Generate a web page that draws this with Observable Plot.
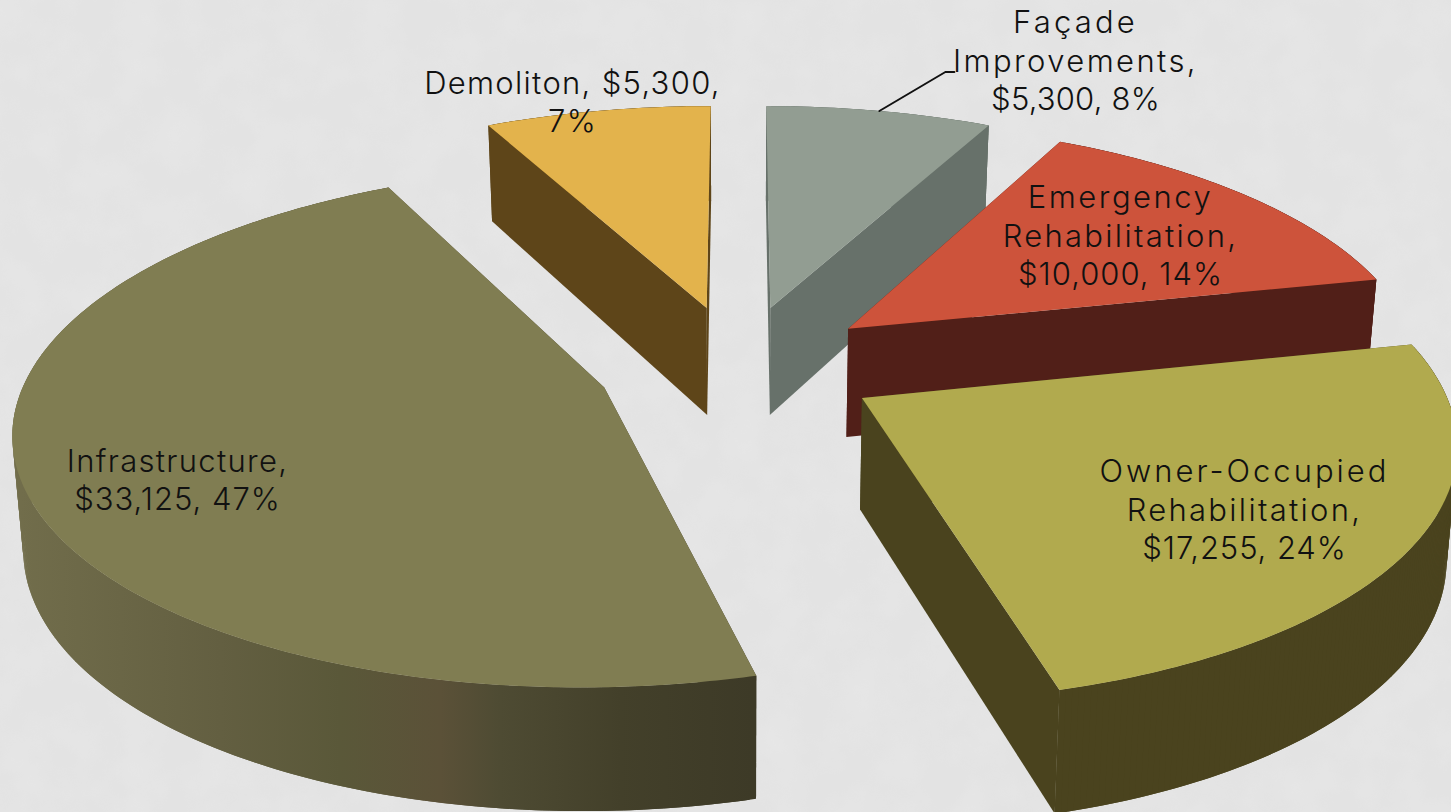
<!DOCTYPE html>
<html>
<head>
<meta charset="utf-8">
<style>
html,body{margin:0;padding:0;background:#e3e3e3;overflow:hidden}
svg{display:block}
</style>
<script src="https://cdn.jsdelivr.net/npm/d3@7"></script>
<script src="https://cdn.jsdelivr.net/npm/@observablehq/plot@0.6"></script>
</head>
<body>
<div id="chart"></div>
<script>
// Data, clockwise from twelve o'clock
const categories = ["Façade\nImprovements,", "Emergency\nRehabilitation,", "Owner-Occupied\nRehabilitation,", "Infrastructure,", "Demoliton,"];
const amounts = [5300, 10000, 17255, 33125, 5300];
const percents = [8, 14, 24, 47, 7];

// Styles
const topColors = ["#929d92", "#cd533b", "#b1aa4e", "#807d52", "#e3b34c"];
const wallColors = ["#67716a", "#511f18", "#4a431e", "url(#infraWall)", "#5e4519"];
const drawOrder = [0, 4, 1, 3, 2];

// Perspective layout of the exploded disc
const view = {cx: 738, horizon: -1295, plane: 1660, persp: 0.1493, spread: 574, explode: 0.247,
              depth: 110, depthSlope: 12.5, shrink: 0.985};
const labelPlaces = [[1075, 59], [1120, 234], [1244, 508], [177, 478], [572, 100]];
const lineSpacing = {"Façade": 3.2, "Improvements,": 2.4, "Emergency": 2.5, "Rehabilitation,": 2.3, "Owner-Occupied": 3,
                     "$5,300, 8%": 0.2, "$10,000, 14%": 1, "$17,255, 24%": 0.9, "$33,125, 47%": 1};

const total = d3.sum(amounts);
const ends = d3.cumsum(amounts).map(v => v / total * 2 * Math.PI);
const starts = ends.map((_, i) => (i ? ends[i - 1] : 0));

function project(u, v, low) {
  const w = 1 + view.persp * v;
  const x = view.cx + view.spread * u / w;
  const y = view.horizon + view.plane / w;
  if (!low) return {x, y};
  return {x: view.cx + (x - view.cx) * view.shrink, y: y + view.depth - view.depthSlope * v};
}
function slicePoint(i, theta, r, low) {
  const mid = (starts[i] + ends[i]) / 2;
  const u = view.explode * Math.sin(mid) + r * Math.sin(theta);
  const v = view.explode * Math.cos(mid) + r * Math.cos(theta);
  return project(u, v, low);
}
function rimAngles(i) {
  const n = Math.ceil((ends[i] - starts[i]) / 0.01);
  return d3.range(n + 1).map(k => starts[i] + (ends[i] - starts[i]) * k / n);
}
function radialWall(i, theta) {
  return [slicePoint(i, theta, 0, false), slicePoint(i, theta, 1, false), slicePoint(i, theta, 1, true), slicePoint(i, theta, 0, true)];
}
// The outer wall folds over itself at the silhouette, so it is built from separate
// overlapping quads: each one spans two rim steps, which hides the seams.
function outerWall(i) {
  const a = rimAngles(i);
  return a.slice(0, -1).flatMap((t0, k) => {
    const t1 = a[Math.min(k + 2, a.length - 1)];
    return [slicePoint(i, t0, 1, false), slicePoint(i, t1, 1, false), slicePoint(i, t1, 1, true), slicePoint(i, t0, 1, true)]
      .map(p => ({...p, k}));
  });
}
function topFace(i) {
  return [slicePoint(i, 0, 0, false), ...rimAngles(i).map(t => slicePoint(i, t, 1, false))];
}
const face = (pts, fill) => Plot.line(pts, {x: "x", y: "y", fill, stroke: "none", curve: "linear"});

const sliceMarks = drawOrder.flatMap(i => [
  Plot.line(outerWall(i), {x: "x", y: "y", z: "k", fill: wallColors[i], stroke: "none", curve: "linear"}),
  face(radialWall(i, starts[i]), wallColors[i]),
  face(radialWall(i, ends[i]), wallColors[i]),
  face(topFace(i), topColors[i])
]);

const labels = categories.map((c, i) => ({
  x: labelPlaces[i][0],
  y: labelPlaces[i][1],
  text: `${c}${i === 4 ? " " : "\n"}$${d3.format(",")(amounts[i])},${i === 4 ? "\n" : " "}${percents[i]}%`
}));

// Leader from the middle of the façade rim to its label
const leaderStart = slicePoint(0, (starts[0] + ends[0]) / 2, 1, false);
const leader = [leaderStart, {x: leaderStart.x + 66, y: leaderStart.y - 39}, {x: leaderStart.x + 75, y: leaderStart.y - 39}];

const backdrop = () => {
  const defs = d3.create("svg:g");
  const d = defs.append("defs");
  const g = d.append("linearGradient").attr("id", "infraWall").attr("gradientUnits", "userSpaceOnUse")
    .attr("x1", 0).attr("x2", 1451).attr("y1", 0).attr("y2", 0);
  [[20, "#716d4b"], [220, "#635f41"], [340, "#5a5839"], [440, "#5b5138"], [500, "#4e4b33"], [620, "#43402a"], [752, "#3d3a27"]]
    .forEach(([x, c]) => g.append("stop").attr("offset", x / 1451).attr("stop-color", c));
  const f = d.append("filter").attr("id", "paper").attr("x", 0).attr("y", 0).attr("width", "100%").attr("height", "100%");
  f.append("feTurbulence").attr("type", "fractalNoise").attr("baseFrequency", 0.025).attr("numOctaves", 3).attr("seed", 4);
  f.append("feColorMatrix").attr("type", "matrix")
    .attr("values", "0 0 0 0 1  0 0 0 0 1  0 0 0 0 1  0.9 0 0 0 -0.3");
  defs.append("rect").attr("width", 1451).attr("height", 812).attr("filter", "url(#paper)").attr("opacity", 0.22);
  return defs.node();
};

const plot = Plot.plot({
  width: 1451,
  height: 812,
  margin: 0,
  x: {domain: [0, 1451], range: [0, 1451], axis: null},
  y: {domain: [0, 812], range: [0, 812], axis: null},
  style: {background: "transparent"},
  marks: [
    backdrop,
    ...sliceMarks,
    Plot.line(leader, {x: "x", y: "y", stroke: "#111", strokeWidth: 2, curve: "linear"}),
    Plot.text(labels, {
      x: "x", y: "y", text: "text",
      fontFamily: "Inter", fontSize: 31, fontWeight: 300, lineHeight: 1.242,
      fill: "#111", textAnchor: "middle", lineAnchor: "middle"
    })
  ]
});
plot.querySelectorAll("text tspan").forEach(t => {
  t.style.letterSpacing = (lineSpacing[t.textContent] ?? 1.3) + "px";
});
document.getElementById("chart").append(plot);
</script>
</body>
</html>
